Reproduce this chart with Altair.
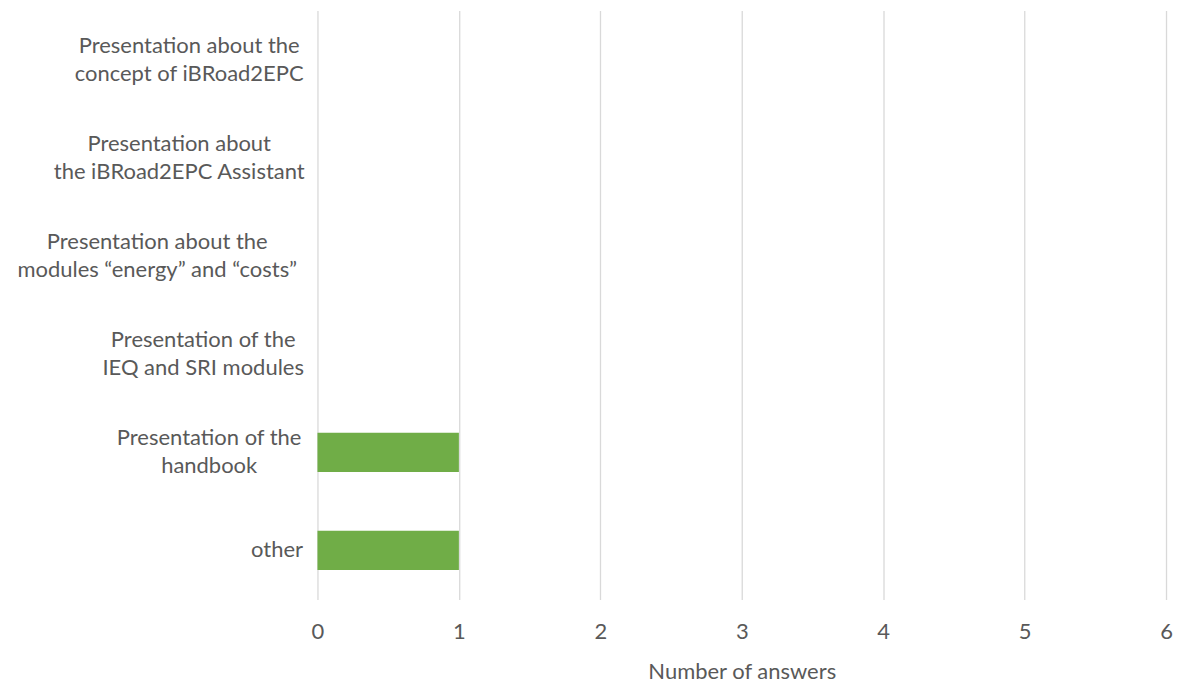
import json
import altair as alt
import pandas as pd

categories = [
    "Presentation about the\nconcept of iBRoad2EPC",
    "Presentation about\nthe iBRoad2EPC Assistant",
    "Presentation about the\nmodules “energy” and “costs”",
    "Presentation of the\nIEQ and SRI modules",
    "Presentation of the\nhandbook",
    "other",
]
answers = [0, 0, 0, 0, 1, 1]

# distance from the axis to the centre of each label block (style)
label_centres = [129, 139, 161, 115, 109, 41]

df = pd.DataFrame({"category": categories, "answers": answers})

pad_expr = "[%s][indexof(%s, datum.value)]" % (
    ",".join(str(v) for v in label_centres),
    json.dumps(categories, ensure_ascii=False),
)
offset_expr = "-(length(split(datum.value, '\\n')) - 1) * 14"

FONT = "Lato"
GREY = "#595959"
FS = 22

chart = (
    alt.Chart(df)
    .mark_bar(color="#70AD47")
    .encode(
        x=alt.X(
            "answers:Q",
            scale=alt.Scale(domain=[0, 6], nice=False),
            axis=alt.Axis(
                title="Number of answers",
                values=[0, 1, 2, 3, 4, 5, 6],
                format="d",
                grid=True,
                gridColor="#D9D9D9",
                gridWidth=1.3,
                domain=False,
                ticks=False,
                labelFlush=False,
                labelPadding=22,
                labelFont=FONT,
                labelFontSize=FS,
                labelColor=GREY,
                titleFont=FONT,
                titleFontSize=FS,
                titleFontWeight="normal",
                titleColor=GREY,
                titlePadding=19,
            ),
        ),
        y=alt.Y(
            "category:N",
            sort=categories,
            scale=alt.Scale(paddingInner=0.6, paddingOuter=0.3),
            axis=alt.Axis(
                title=None,
                grid=False,
                domain=False,
                ticks=False,
                labelExpr="split(datum.label, '\\n')",
                labelAlign="center",
                labelBaseline="middle",
                labelPadding={"expr": pad_expr},
                labelOffset={"expr": offset_expr},
                labelFont=FONT,
                labelFontSize=FS,
                labelColor=GREY,
                labelLineHeight=28,
                labelLimit=400,
                minExtent=305,
                maxExtent=305,
            ),
        ),
    )
    .properties(
        width=850,
        height=590,
        padding={"left": 5, "top": 2, "right": 0, "bottom": 0},
    )
    .configure_view(stroke=None)
)

chart.save("out.html", embed_options={"renderer": "svg", "actions": False})
